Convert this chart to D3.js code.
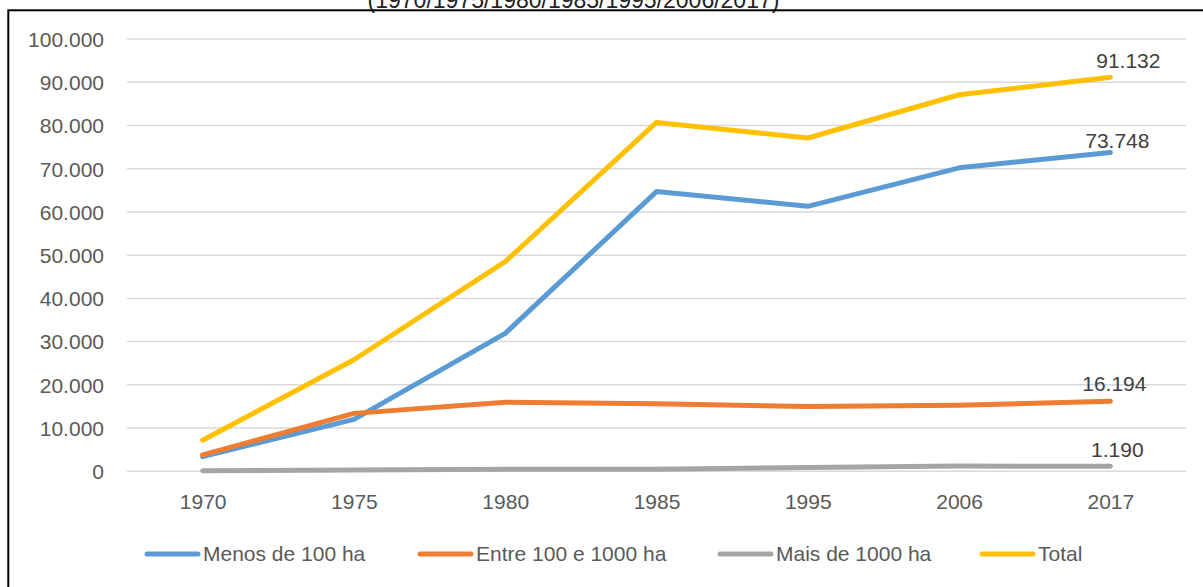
<!DOCTYPE html>
<html>
<head>
<meta charset="utf-8">
<script src="https://cdn.jsdelivr.net/npm/d3@7"></script>
<style>
  html, body { margin: 0; padding: 0; background: #fff; }
  svg { display: block; }
  text { font-family: "Liberation Sans", Arial, sans-serif; }
</style>
</head>
<body>
<svg id="chart" width="1203" height="587"></svg>
<script>
// ---- data ----
const years = ["1970", "1975", "1980", "1985", "1995", "2006", "2017"];
const menos = [3400, 12000, 31900, 64700, 61300, 70200, 73748];
const entre = [3800, 13400, 16000, 15600, 15000, 15300, 16194];
const mais = [150, 300, 500, 500, 900, 1200, 1190];
const total = [7200, 25800, 48500, 80700, 77100, 87100, 91132];
const seriesNames = ["Menos de 100 ha", "Entre 100 e 1000 ha", "Mais de 1000 ha", "Total"];
const yTicks = [0, 10000, 20000, 30000, 40000, 50000, 60000, 70000, 80000, 90000, 100000];
const titleText = "(1970/1975/1980/1985/1995/2006/2017)";

const colors = ["#5B9BD5", "#ED7D31", "#A5A5A5", "#FFC000"];
const seriesData = [menos, entre, mais, total];
// label offsets (relative to last point) for each series
const labelOffsets = [[7, -4], [4, -10], [7, -9], [18, -9]];

const svg = d3.select("#chart");
const locale = d3.formatLocale({ decimal: ",", thousands: ".", grouping: [3], currency: ["", ""] });
const fmt = locale.format(",d");

const plot = { left: 127, right: 1186, top: 39, bottom: 471.3 };
const x = d3.scalePoint().domain(years).range([plot.left, plot.right]).padding(0.5);
const y = d3.scaleLinear().domain([0, 100000]).range([plot.bottom, plot.top]);

// title (cropped at top)
svg.append("text")
  .attr("x", 573.5).attr("y", 8)
  .attr("text-anchor", "middle")
  .attr("font-size", 23)
  .attr("fill", "#222")
  .text(titleText);

// frame
svg.append("rect")
  .attr("x", 8.3).attr("y", 10.3)
  .attr("width", 1400).attr("height", 800)
  .attr("fill", "none").attr("stroke", "#000").attr("stroke-width", 2);

// gridlines
svg.append("g").selectAll("line").data(yTicks).join("line")
  .attr("x1", plot.left).attr("x2", plot.right)
  .attr("y1", d => y(d)).attr("y2", d => y(d))
  .attr("stroke", "#D9D9D9").attr("stroke-width", 1.5);

// y axis labels
const yAxis = d3.axisLeft(y).tickValues(yTicks).tickFormat(d => fmt(d)).tickSize(0).tickPadding(0);
const gy = svg.append("g").attr("transform", "translate(104,0)").call(yAxis);
gy.select(".domain").remove();
gy.selectAll("text").attr("font-size", 21).attr("fill", "#595959")
  .attr("font-family", "'Liberation Sans', Arial, sans-serif").attr("dy", "0.35em");

// x axis labels
const xAxis = d3.axisBottom(x).tickSize(0).tickPadding(0);
const gx = svg.append("g").attr("transform", "translate(0,509)").call(xAxis);
gx.select(".domain").remove();
gx.selectAll("text").attr("font-size", 21).attr("fill", "#595959")
  .attr("font-family", "'Liberation Sans', Arial, sans-serif").attr("dy", 0);

// lines
const line = d3.line().x((d, i) => x(years[i])).y(d => y(d));
seriesData.forEach((s, k) => {
  svg.append("path")
    .attr("d", line(s))
    .attr("fill", "none")
    .attr("stroke", colors[k])
    .attr("stroke-width", 5)
    .attr("stroke-linejoin", "round")
    .attr("stroke-linecap", "round");
});

// end labels
seriesData.forEach((s, k) => {
  const last = s.length - 1;
  svg.append("text")
    .attr("x", x(years[last]) + labelOffsets[k][0])
    .attr("y", y(s[last]) + labelOffsets[k][1])
    .attr("text-anchor", "middle")
    .attr("font-size", 21)
    .attr("fill", "#404040")
    .text(fmt(s[last]));
});

// legend
const legendX = [145, 418, 718, 980];
const legendY = 554;
const lg = svg.append("g");
seriesNames.forEach((name, k) => {
  lg.append("line")
    .attr("x1", legendX[k] + 2).attr("x2", legendX[k] + 53)
    .attr("y1", legendY).attr("y2", legendY)
    .attr("stroke", colors[k]).attr("stroke-width", 5)
    .attr("stroke-linecap", "round");
  lg.append("text")
    .attr("x", legendX[k] + 58).attr("y", legendY)
    .attr("dy", "0.35em")
    .attr("font-size", 21)
    .attr("fill", "#595959")
    .text(name);
});
</script>
</body>
</html>
